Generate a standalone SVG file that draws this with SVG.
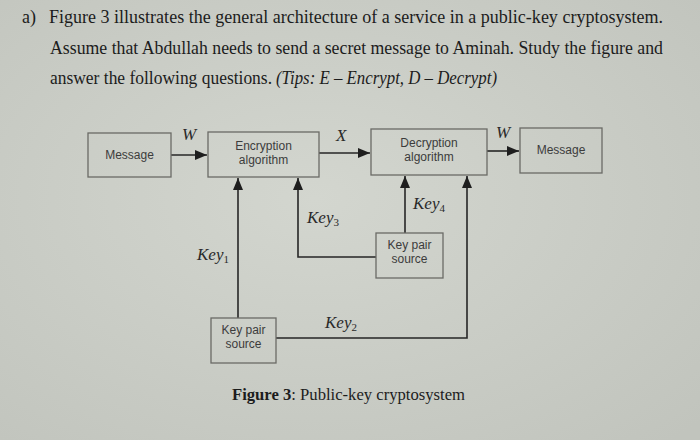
<svg xmlns="http://www.w3.org/2000/svg" width="700" height="440" viewBox="0 0 700 440">
  <defs>
    <radialGradient id="paper" cx="0.45" cy="0.45" r="0.75">
      <stop offset="0" stop-color="#d3d6cf"/>
      <stop offset="1" stop-color="#c1c4bd"/>
    </radialGradient>
    <marker id="ah" viewBox="0 0 12 10" refX="12" refY="5" markerWidth="12" markerHeight="10" markerUnits="userSpaceOnUse" orient="auto">
      <path d="M0,0 L12,5 L0,10 Z" fill="#1e1e1e"/>
    </marker>
    <style>
      .body { font-family: "Liberation Serif", "Times New Roman", serif; font-size: 18px; fill: #1c1c1c; }
      .box { fill: none; stroke: #6a6a66; stroke-width: 1.3; }
      .lbl { font-family: "Liberation Sans", Arial, sans-serif; font-size: 12px; fill: #3c3c3c; text-anchor: middle; }
      .var { font-family: "Liberation Serif", "Times New Roman", serif; font-style: italic; font-size: 17px; fill: #2a2a2a; }
      .sub { font-size: 11px; font-style: normal; }
      .conn { fill: none; stroke: #262626; stroke-width: 1.6; }
      .cap { font-family: "Liberation Serif", "Times New Roman", serif; font-size: 16px; fill: #1c1c1c; }
    </style>
  </defs>
  <rect width="700" height="440" fill="url(#paper)"/>

  <g id="question">
    <text class="body" x="22" y="23">a)</text>
    <text class="body" x="49" y="23" textLength="614" lengthAdjust="spacingAndGlyphs">Figure 3 illustrates the general architecture of a service in a public-key cryptosystem.</text>
    <text class="body" x="50" y="54" textLength="613" lengthAdjust="spacingAndGlyphs">Assume that Abdullah needs to send a secret message to Aminah. Study the figure and</text>
    <text class="body" x="50" y="84" textLength="222" lengthAdjust="spacingAndGlyphs">answer the following questions.</text>
    <text class="body" x="276" y="84" font-style="italic" textLength="221" lengthAdjust="spacingAndGlyphs">(Tips: E – Encrypt, D – Decrypt)</text>
  </g>

  <g id="connectors">
    <line class="conn" x1="171" y1="155" x2="207" y2="155" marker-end="url(#ah)"/>
    <line class="conn" x1="319" y1="153" x2="370" y2="153" marker-end="url(#ah)"/>
    <line class="conn" x1="487" y1="151" x2="519" y2="151" marker-end="url(#ah)"/>
    <line class="conn" x1="238" y1="318" x2="238" y2="178" marker-end="url(#ah)"/>
    <polyline class="conn" points="376,257 298,257 298,178" marker-end="url(#ah)"/>
    <line class="conn" x1="405" y1="233" x2="405" y2="176" marker-end="url(#ah)"/>
    <polyline class="conn" points="276,338 467,338 467,176" marker-end="url(#ah)"/>
    <text class="var" x="182" y="140">W</text>
    <text class="var" x="336" y="141">X</text>
    <text class="var" x="496" y="138">W</text>
    <text class="var" x="197" y="260">Key<tspan class="sub" dy="3">1</tspan></text>
    <text class="var" x="307" y="223">Key<tspan class="sub" dy="3">3</tspan></text>
    <text class="var" x="413" y="209">Key<tspan class="sub" dy="3">4</tspan></text>
    <text class="var" x="325" y="328">Key<tspan class="sub" dy="3">2</tspan></text>
  </g>

  <g id="message-in">
    <rect class="box" x="88" y="133" width="83" height="44"/>
    <text class="lbl" x="129.5" y="159">Message</text>
  </g>
  <g id="encryption">
    <rect class="box" x="208" y="132" width="111" height="45"/>
    <text class="lbl" x="263.5" y="150">Encryption</text>
    <text class="lbl" x="263.5" y="164">algorithm</text>
  </g>
  <g id="decryption">
    <rect class="box" x="371" y="129" width="116" height="46"/>
    <text class="lbl" x="429" y="147">Decryption</text>
    <text class="lbl" x="429" y="161">algorithm</text>
  </g>
  <g id="message-out">
    <rect class="box" x="520" y="128" width="82" height="45"/>
    <text class="lbl" x="561" y="154">Message</text>
  </g>
  <g id="keypair-1">
    <rect class="box" x="211" y="318" width="65" height="45"/>
    <text class="lbl" x="243.5" y="334">Key pair</text>
    <text class="lbl" x="243.5" y="348">source</text>
  </g>
  <g id="keypair-2">
    <rect class="box" x="376" y="233" width="67" height="45"/>
    <text class="lbl" x="409.5" y="249">Key pair</text>
    <text class="lbl" x="409.5" y="263">source</text>
  </g>

  <g id="caption">
    <text class="cap" x="232" y="400" textLength="233" lengthAdjust="spacingAndGlyphs"><tspan font-weight="bold">Figure 3</tspan>: Public-key cryptosystem</text>
  </g>
</svg>
